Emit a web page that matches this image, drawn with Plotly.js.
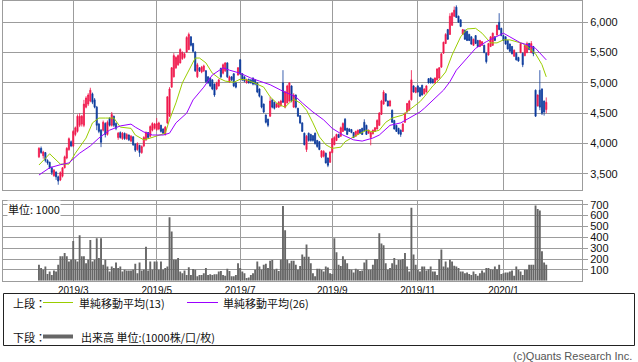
<!DOCTYPE html>
<html><head><meta charset="utf-8">
<script src="https://cdn.plot.ly/plotly-3.0.1.min.js"></script>
<style>html,body{margin:0;padding:0;background:#fff}#chart{width:638px;height:362px}</style>
</head><body><div id="chart"></div>
<script>
// Daily OHLC (trading-day sequence, early Feb 2019 to early Feb 2020)
const openP = [3780,3920,3800,3850,3720,3690,3600,3470,3530,3450,3400,3460,3600,3760,3900,4030,3960,4150,4200,4300,
4320,4300,4600,4650,4700,4820,4720,4600,4320,4220,4220,4330,4150,4420,4300,4450,4330,4100,4180,4080,
4170,4080,4140,4040,4110,3990,3900,3970,3850,3960,4060,4180,4120,4220,4250,4230,4240,4300,4240,4150,
4340,4450,4930,5100,5250,5300,5330,5400,5420,5510,5550,5760,5650,5510,5100,5250,5180,5200,5200,5100,
5080,5050,4980,4900,4950,5240,5160,5200,5330,5020,5100,5150,5000,5130,5380,5150,5100,5000,5060,5050,
5080,5050,5000,4900,4780,4650,4470,4400,4450,4720,4680,4600,4600,4620,5000,4600,4670,4700,4950,4600,
4800,4580,4460,4340,4170,3900,4170,4150,4130,4170,4050,4030,3780,3790,3840,3760,3690,3850,3980,4050,
4150,4120,4200,4400,4250,4240,4230,4180,4120,4150,4230,4250,4350,4300,4170,4100,4160,4200,4240,4300,
4480,4650,4820,4700,4620,4550,4380,4300,4250,4220,4200,4350,4520,4550,4720,4950,4840,4950,4920,4960,
4820,4850,5070,5080,5060,5000,5050,5080,5260,5490,5650,5880,5800,5950,6100,6250,6100,6040,5800,5870,
5850,5800,5760,5620,5780,5700,5600,5620,5620,5490,5460,5600,5620,5760,5790,6000,5900,5780,5760,5700,
5640,5600,5440,5490,5420,5500,5490,5450,5500,5650,5500,5600,4880,4620,4880,4900,4700,4560];
const highP = [3940,3950,3880,3860,3740,3700,3620,3580,3540,3470,3540,3610,3800,3940,4100,4050,4220,4280,4480,4500,
4470,4720,4780,4830,4920,4840,4750,4620,4340,4240,4380,4350,4380,4430,4520,4460,4350,4190,4200,4190,
4180,4170,4150,4140,4120,4000,4020,3980,3970,4120,4200,4190,4300,4350,4340,4420,4360,4310,4250,4290,
4780,4930,5260,5490,5440,5470,5570,5520,5500,5770,5830,5770,5660,5520,5330,5260,5280,5300,5210,5110,
5090,5060,4990,5020,5060,5250,5320,5340,5340,5120,5110,5160,5010,5260,5390,5160,5110,5070,5070,5060,
5090,5060,5010,4910,4790,4660,4480,4410,4770,4730,4690,4670,4700,4720,5210,4870,4970,5010,4960,4830,
4810,4590,4470,4350,4180,4140,4180,4160,4140,4180,4060,4040,3890,3890,3850,3770,3870,4090,4120,4160,
4160,4280,4350,4420,4260,4250,4240,4190,4210,4230,4240,4260,4400,4310,4230,4190,4230,4270,4400,4520,
4720,4880,4830,4710,4720,4560,4390,4310,4260,4230,4340,4510,4670,4720,5210,4960,4930,4960,4930,4970,
4910,4960,5080,5090,5070,5090,5240,5260,5490,5680,5820,5890,6150,6170,6260,6280,6110,6050,5890,5880,
5860,5810,5770,5730,5790,5710,5710,5690,5630,5500,5660,5770,5830,5770,5960,6150,5910,5790,5770,5710,
5650,5610,5550,5500,5430,5660,5500,5630,5680,5660,5690,5610,4890,4810,5210,4910,4710,4760];
const lowP = [3760,3830,3750,3690,3650,3580,3480,3450,3400,3320,3380,3440,3590,3740,3880,3940,3940,4120,4180,4270,
4280,4270,4580,4620,4680,4650,4580,4220,4170,3940,4200,4100,4130,4280,4280,4270,4220,4060,4080,4060,
4060,4060,4040,4020,3960,3860,3880,3780,3830,3940,4040,4080,4100,4200,4230,4210,4220,4180,4150,4130,
4320,4440,4920,5090,5230,5280,5320,5380,5400,5500,5540,5600,5500,5180,5080,5180,5160,5180,5000,4980,
4930,4880,4770,4880,4940,5080,5140,5180,5080,5000,5030,4930,4910,5120,5130,5030,5010,4990,4990,4990,
4960,4960,4830,4760,4580,4500,4330,4270,4440,4580,4560,4590,4590,4610,4670,4580,4660,4690,4680,4590,
4580,4440,4320,4190,3970,3860,4030,4030,4030,3980,3930,3890,3760,3770,3670,3610,3680,3840,3970,4040,
4090,4110,4190,4210,4140,4190,4170,4090,4110,4140,4160,4140,4200,4140,4160,3970,4150,4190,4230,4290,
4470,4640,4690,4610,4610,4340,4230,4190,4150,4110,4190,4340,4510,4540,4710,4840,4830,4840,4770,4790,
4810,4840,4990,4990,4990,4990,5040,5070,5250,5480,5640,5710,5790,5940,6090,6070,5990,5920,5790,5710,
5690,5690,5630,5610,5640,5590,5590,5610,5490,5320,5450,5590,5610,5690,5780,5870,5770,5690,5630,5550,
5510,5470,5430,5370,5350,5490,5260,5440,5490,5540,5490,5440,4440,4610,4550,4470,4460,4500];
const closeP = [3920,3850,3860,3720,3680,3600,3520,3560,3450,3380,3520,3600,3780,3920,4080,3960,4200,4260,4450,4450,
4450,4650,4750,4800,4880,4680,4600,4300,4200,4020,4350,4150,4350,4300,4480,4300,4250,4170,4100,4170,
4080,4150,4060,4120,3980,3890,4000,3850,3950,4100,4180,4100,4280,4330,4320,4330,4340,4200,4170,4270,
4770,4900,5250,5450,5420,5450,5550,5500,5480,5750,5800,5620,5520,5200,5300,5200,5260,5280,5020,5000,
4950,4900,4800,5000,5050,5100,5300,5330,5100,5100,5050,4950,4930,5250,5150,5050,5030,5050,5000,5000,
4980,4980,4850,4780,4600,4520,4350,4300,4700,4600,4580,4650,4680,4700,4680,4850,4950,5000,4700,4800,
4600,4450,4340,4200,3980,4120,4050,4050,4050,4000,3950,3900,3880,3870,3680,3640,3860,4080,4100,4150,
4100,4260,4330,4220,4150,4200,4180,4100,4200,4220,4170,4150,4210,4150,4220,4180,4220,4260,4380,4500,
4700,4850,4700,4620,4700,4350,4240,4200,4160,4150,4320,4500,4660,4700,5050,4850,4920,4850,4780,4800,
4900,4950,5000,5000,5000,5080,5230,5250,5480,5670,5800,5720,6100,6150,6200,6080,6000,5930,5880,5720,
5700,5700,5640,5720,5650,5600,5700,5680,5500,5350,5650,5760,5820,5700,5950,5880,5780,5700,5640,5560,
5520,5480,5540,5380,5360,5650,5300,5620,5650,5550,5650,5480,4450,4800,4600,4500,4520,4680];
// Volume (unit: 1000 shares)
const volume = [147,116,100,131,62,85,53,94,85,147,225,225,256,225,178,194,365,194,178,419,
225,225,160,194,375,178,194,391,210,391,147,194,131,85,131,116,168,116,131,85,
100,94,94,94,100,156,69,168,94,100,313,94,178,100,178,178,100,178,100,116,
131,585,453,194,194,210,85,69,94,53,125,53,107,100,40,53,53,69,116,53,
60,53,60,60,85,90,53,45,110,90,40,40,53,160,116,85,69,25,30,53,
69,100,178,131,100,147,156,116,185,190,100,110,90,194,688,466,194,160,185,185,
147,100,135,241,220,334,220,160,69,40,110,110,100,85,131,122,69,62,391,262,
147,135,225,194,160,106,100,75,110,100,90,94,168,194,100,100,147,200,200,438,
344,328,160,100,116,160,210,147,190,190,200,256,131,85,673,241,147,100,85,131,
131,94,106,131,85,85,53,200,288,131,178,122,194,178,138,131,116,85,85,69,
75,62,53,85,62,45,69,94,75,116,116,106,100,131,106,147,62,69,75,75,
85,94,45,131,100,85,53,100,100,147,147,147,694,662,647,271,168,147];
// Simple moving averages (trading-day index, value)
const ma13Day = [0,5,10,14,17,22,25,28,31,35,38,43,45,49,52,57,59,61,64,67,71,73,75,78,81,84,87,91,94,97,100,105,108,111,113,115,117,119,122,125,128,131,134,137,141,143,147,150,153,156,159,162,165,170,175,178,180,184,187,190,193,197,200,204,207,211,214,217,220,223,226,229,232,235,237];
const ma13Val = [3645,3830,3660,3660,3840,4090,4340,4420,4420,4420,4270,4250,4140,4060,4090,4140,4170,4390,4670,5000,5260,5410,5410,5330,5160,5080,5030,5010,5060,5050,5010,4930,4770,4670,4630,4600,4670,4730,4670,4550,4340,4110,3980,3920,3940,4030,4110,4170,4220,4190,4220,4350,4420,4470,4600,4690,4770,4950,5050,5180,5460,5760,5890,5900,5820,5660,5660,5710,5710,5680,5650,5570,5480,5300,5100];
const ma26Day = [0,5,10,14,19,24,28,33,38,43,45,49,53,58,61,64,69,72,77,81,86,89,94,99,103,108,113,117,120,123,128,133,137,142,147,151,156,159,164,169,173,178,180,184,189,192,195,200,204,209,214,217,220,225,229,232,237];
const ma26Val = [3480,3600,3650,3680,3840,3960,4090,4220,4290,4320,4270,4190,4140,4140,4170,4340,4500,4720,4930,5130,5250,5210,5160,5080,5030,4970,4880,4820,4770,4670,4520,4390,4250,4140,4060,4040,4090,4140,4300,4340,4420,4520,4580,4720,4880,5020,5210,5410,5570,5680,5770,5820,5760,5660,5620,5570,5380];
// Month ticks (trading-day index of first session in month)
const monthTickDay = [16,55,94,137,177,217];
const monthTickText = ['2019/3','2019/5','2019/7','2019/9','2019/11','2020/1'];
const priceTicks = [3500,4000,4500,5000,5500,6000];
const volumeTicks = [100,200,300,400,500,600,700];

const days = closeP.map((_, i) => i);
const W = 638, H = 362;
const px = v => v / W, py = v => 1 - v / H;
const GRID = '#9c9c9c';
const RED = '#f0174b', BLUE = '#0b3a9c';
const xr = [-16.8, 253.7];

const traces = [
  {type:'candlestick', x:days, open:openP, high:highP, low:lowP, close:closeP,
   xaxis:'x', yaxis:'y', whiskerwidth:0,
   increasing:{line:{color:RED,width:0.8}, fillcolor:RED},
   decreasing:{line:{color:BLUE,width:0.8}, fillcolor:BLUE},
   hoverinfo:'skip', showlegend:false},
  {type:'scatter', mode:'lines', x:ma13Day, y:ma13Val, xaxis:'x', yaxis:'y',
   line:{color:'#9acd00', width:1}, hoverinfo:'skip', showlegend:false},
  {type:'scatter', mode:'lines', x:ma26Day, y:ma26Val, xaxis:'x', yaxis:'y',
   line:{color:'#9b00ff', width:1}, hoverinfo:'skip', showlegend:false},
  {type:'bar', x:days, y:volume, xaxis:'x2', yaxis:'y2',
   marker:{color:'#666666', line:{width:0}}, hoverinfo:'skip', showlegend:false}
];

const axisCommon = {showgrid:true, gridcolor:GRID, gridwidth:1, showline:true, mirror:true,
  linecolor:GRID, linewidth:1, zeroline:false, fixedrange:true};
const numFont = {family:'Liberation Sans, Arial, sans-serif', size:11, color:'#111'};
const jpFont = {family:'Noto Sans CJK JP, sans-serif', size:11, color:'#111'};

const layout = {
  width:W, height:H, margin:{l:0,r:0,t:0,b:0}, paper_bgcolor:'#fff', plot_bgcolor:'#fff',
  showlegend:false, boxgap:0.25, bargap:0.12,
  xaxis:Object.assign({}, axisCommon, {domain:[px(3),px(582)], range:xr, anchor:'y',
    tickmode:'array', tickvals:monthTickDay, showticklabels:false, ticks:'', rangeslider:{visible:false}}),
  xaxis2:Object.assign({}, axisCommon, {domain:[px(3),px(582)], range:xr, anchor:'y2',
    tickmode:'array', tickvals:monthTickDay, ticktext:monthTickText, ticks:'',
    tickfont:{family:'Liberation Sans, Arial, sans-serif', size:10, color:'#111'}}),
  yaxis:Object.assign({}, axisCommon, {domain:[py(190),py(0.7)], range:[3233,6356], side:'right', anchor:'x',
    tickmode:'array', tickvals:priceTicks, tickformat:',d', ticks:'outside', ticklen:5, tickcolor:GRID,
    tickfont:numFont}),
  yaxis2:Object.assign({}, axisCommon, {domain:[py(280.7),py(201)], range:[0,735], side:'right', anchor:'x2',
    tickmode:'array', tickvals:volumeTicks, ticks:'outside', ticklen:5, tickcolor:GRID,
    tickfont:numFont}),
  shapes:[
    {type:'rect', xref:'paper', yref:'paper', x0:px(3.5), x1:px(634.5), y0:py(345.5), y1:py(293.5),
     line:{color:'#222', width:1}},
    {type:'line', xref:'paper', yref:'paper', x0:px(43), x1:px(73), y0:py(302.5), y1:py(302.5),
     line:{color:'#9acd00', width:1}},
    {type:'line', xref:'paper', yref:'paper', x0:px(187), x1:px(218), y0:py(302.5), y1:py(302.5),
     line:{color:'#9b00ff', width:1}},
    {type:'line', xref:'paper', yref:'paper', x0:px(43), x1:px(73), y0:py(336.5), y1:py(336.5),
     line:{color:'#666666', width:4}}
  ],
  annotations:[
    {xref:'paper', yref:'paper', x:px(7), y:py(209), xanchor:'left', yanchor:'middle', showarrow:false,
     text:'単位: 1000', font:jpFont, bgcolor:'#fff', borderpad:0},
    {xref:'paper', yref:'paper', x:px(11), y:py(302.5), xanchor:'left', yanchor:'middle', showarrow:false,
     text:'上段：', font:jpFont},
    {xref:'paper', yref:'paper', x:px(77), y:py(302.5), xanchor:'left', yanchor:'middle', showarrow:false,
     text:'単純移動平均(13)', font:jpFont},
    {xref:'paper', yref:'paper', x:px(221), y:py(302.5), xanchor:'left', yanchor:'middle', showarrow:false,
     text:'単純移動平均(26)', font:jpFont},
    {xref:'paper', yref:'paper', x:px(11), y:py(336.5), xanchor:'left', yanchor:'middle', showarrow:false,
     text:'下段：', font:jpFont},
    {xref:'paper', yref:'paper', x:px(79), y:py(336.5), xanchor:'left', yanchor:'middle', showarrow:false,
     text:'出来高 単位:(1000株/口/枚)', font:jpFont},
    {xref:'paper', yref:'paper', x:px(634), y:py(355.5), xanchor:'right', yanchor:'middle', showarrow:false,
     text:'(c)Quants Research Inc.', font:{family:'Liberation Sans, Arial, sans-serif', size:11, color:'#555'}}
  ]
};

Plotly.newPlot('chart', traces, layout, {staticPlot:true, displayModeBar:false});
</script>
</body></html>
